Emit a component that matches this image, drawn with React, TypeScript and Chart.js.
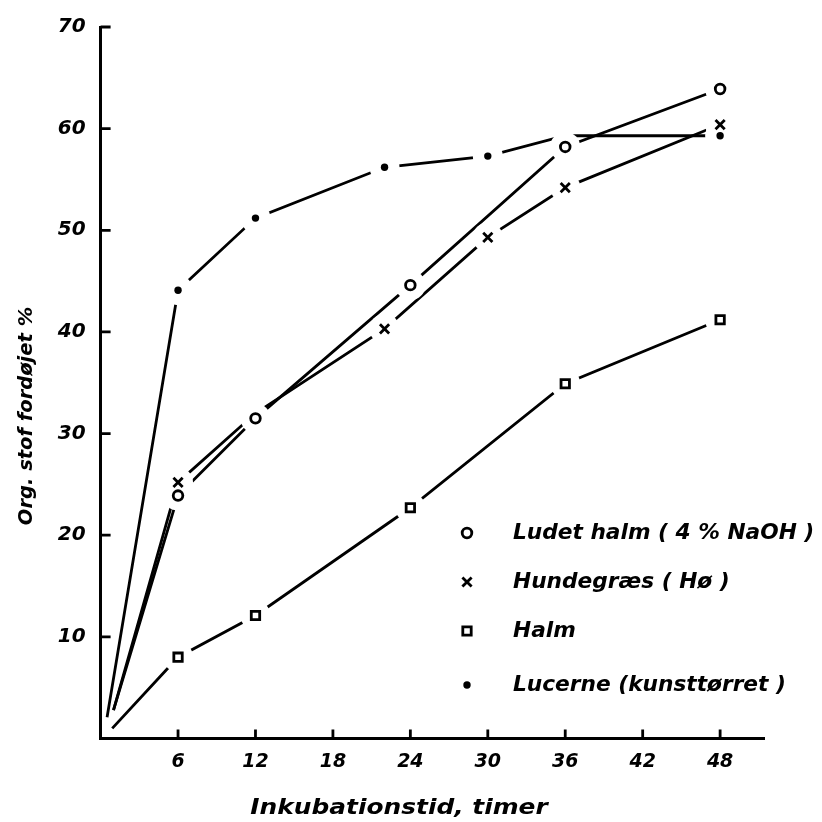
import React, { useEffect, useRef } from 'react';
import { Chart, registerables } from 'chart.js';

Chart.register(...registerables);

// ---- data ----
const ludetHours = [1, 6, 12, 24, 36, 48];
const ludetValues = [2.8, 23.9, 31.5, 44.6, 58.2, 63.9];

const hundeHours = [1, 6, 12, 22, 30, 36, 48];
const hundeValues = [2.8, 25.2, 32.0, 40.3, 49.3, 54.2, 60.4];

const halmHours = [0.9, 6, 12, 24, 36, 48];
const halmValues = [1.0, 8.0, 12.1, 22.7, 34.9, 41.2];

const lucerneHours = [0.5, 6, 12, 22, 30, 36, 48];
const lucerneValues = [2.1, 44.1, 51.2, 56.2, 57.3, 59.3, 59.3];

const xTickLabels = [6, 12, 18, 24, 30, 36, 42, 48];
const yTickLabels = [10, 20, 30, 40, 50, 60, 70];

const seriesNames = [
  'Ludet halm ( 4 % NaOH )',
  'Hundegræs ( Hø )',
  'Halm',
  'Lucerne (kunsttørret )',
];
const xTitle = 'Inkubationstid, timer';
const yTitle = 'Org. stof fordøjet %';

const FONT = '"DejaVu Sans", "Liberation Sans", sans-serif';
const markerStyles = ['circle', 'cross', 'square', 'dot'];

function drawMarker(ctx: CanvasRenderingContext2D, style: string, x: number, y: number) {
  ctx.save();
  ctx.strokeStyle = '#000';
  ctx.fillStyle = '#000';
  ctx.lineWidth = 2.8;
  ctx.beginPath();
  if (style === 'circle') {
    ctx.arc(x, y, 4.8, 0, Math.PI * 2);
    ctx.stroke();
  } else if (style === 'cross') {
    const s = 4.6;
    ctx.moveTo(x - s, y - s);
    ctx.lineTo(x + s, y + s);
    ctx.moveTo(x + s, y - s);
    ctx.lineTo(x - s, y + s);
    ctx.stroke();
  } else if (style === 'square') {
    ctx.rect(x - 4.2, y - 4.2, 8.4, 8.4);
    ctx.stroke();
  } else {
    ctx.arc(x, y, 3.7, 0, Math.PI * 2);
    ctx.fill();
  }
  ctx.restore();
}

function pts(xs: number[], ys: number[]) {
  return xs.map((x, i) => ({ x, y: ys[i] }));
}

export default function App() {
  const ref = useRef<HTMLCanvasElement | null>(null);

  useEffect(() => {
    if (!ref.current) return;

    // which markers are drawn (first point is the start of the curve, no marker;
    // a few are hidden under other markers in the original)
    const shown: boolean[][] = [
      ludetHours.map((_, i) => i > 0),
      hundeHours.map((h, i) => i > 0 && h !== 12),
      halmHours.map((_, i) => i > 0),
      lucerneHours.map((h, i) => i > 0 && h !== 36),
    ];

    const markerPlugin = {
      id: 'markers',
      afterDatasetsDraw(chart: any) {
        const ctx: CanvasRenderingContext2D = chart.ctx;
        const metas = chart.data.datasets.map((_: any, i: number) => chart.getDatasetMeta(i));
        // white gaps around the markers, as in the hand-drawn original
        ctx.save();
        ctx.fillStyle = '#ffffff';
        metas.forEach((meta: any, di: number) => {
          meta.data.forEach((el: any, pi: number) => {
            if (!shown[di][pi]) return;
            ctx.beginPath();
            ctx.arc(el.x, el.y, 15, 0, Math.PI * 2);
            ctx.fill();
          });
        });
        ctx.restore();
        metas.forEach((meta: any, di: number) => {
          meta.data.forEach((el: any, pi: number) => {
            if (!shown[di][pi]) return;
            drawMarker(ctx, markerStyles[di], el.x, el.y);
          });
        });
      },
    };

    const decorPlugin = {
      id: 'decor',
      afterDraw(chart: any) {
        const ctx: CanvasRenderingContext2D = chart.ctx;
        const xs = chart.scales.x;
        const ys = chart.scales.y;
        const { left, bottom } = chart.chartArea;
        ctx.save();
        ctx.strokeStyle = '#000';
        ctx.lineWidth = 2.8;
        ctx.beginPath();
        xTickLabels.forEach((v) => {
          const px = xs.getPixelForValue(v);
          ctx.moveTo(px, bottom);
          ctx.lineTo(px, bottom - 9);
        });
        yTickLabels.forEach((v) => {
          const py = ys.getPixelForValue(v);
          ctx.moveTo(left, py);
          ctx.lineTo(left + 10, py);
        });
        ctx.stroke();

        ctx.fillStyle = '#000';
        ctx.textBaseline = 'middle';

        // x title
        ctx.font = `italic bold 22px ${FONT}`;
        ctx.textAlign = 'center';
        ctx.save();
        ctx.translate(399, 808);
        ctx.scale(1.13, 1);
        ctx.fillText(xTitle, 0, 0);
        ctx.restore();

        // y title
        ctx.font = `italic bold 19.5px ${FONT}`;
        ctx.save();
        ctx.translate(27, 416);
        ctx.rotate(-Math.PI / 2);
        ctx.fillText(yTitle, 0, 0);
        ctx.restore();

        // legend
        const rows = [533, 582, 631, 685];
        ctx.font = `italic bold 21.7px ${FONT}`;
        ctx.textAlign = 'left';
        seriesNames.forEach((name, i) => {
          drawMarker(ctx, markerStyles[i], 467, rows[i]);
          ctx.fillText(name, 513, rows[i]);
        });
        ctx.restore();
      },
    };

    const yTickFont = { family: FONT, size: 20, style: 'italic' as const, weight: 'bold' as const };
    const xTickFont = { family: FONT, size: 19, style: 'italic' as const, weight: 'bold' as const };
    const lineDs = (data: any) => ({
      data,
      borderColor: '#000',
      borderWidth: 2.8,
      pointRadius: 0,
      pointHoverRadius: 0,
      tension: 0,
      fill: false,
    });

    const chart = new Chart(ref.current, {
      type: 'line',
      data: {
        datasets: [
          { label: seriesNames[0], ...lineDs(pts(ludetHours, ludetValues)) },
          { label: seriesNames[1], ...lineDs(pts(hundeHours, hundeValues)) },
          { label: seriesNames[2], ...lineDs(pts(halmHours, halmValues)) },
          { label: seriesNames[3], ...lineDs(pts(lucerneHours, lucerneValues)) },
        ],
      },
      options: {
        animation: false,
        responsive: false,
        devicePixelRatio: 1,
        layout: { padding: { left: 0, top: 21, right: 58, bottom: 0 } },
        plugins: { legend: { display: false }, tooltip: { enabled: false } },
        scales: {
          x: {
            type: 'linear',
            min: 0,
            max: 51.4,
            afterFit: (s: any) => {
              s.height = 83.5;
            },
            grid: { display: false, drawTicks: false },
            border: { display: true, width: 3, color: '#000' },
            ticks: {
              stepSize: 6,
              includeBounds: false,
              autoSkip: false,
              maxRotation: 0,
              padding: 12,
              color: '#000',
              font: xTickFont,
              callback: (v: any) => (xTickLabels.includes(Number(v)) ? String(v) : ''),
            },
          },
          y: {
            type: 'linear',
            min: 0,
            max: 70,
            afterFit: (s: any) => {
              s.width = 100.6;
            },
            grid: { display: false, drawTicks: false },
            border: { display: true, width: 3, color: '#000' },
            ticks: {
              stepSize: 10,
              includeBounds: false,
              autoSkip: false,
              padding: 15,
              color: '#000',
              font: yTickFont,
              callback: (v: any) => (yTickLabels.includes(Number(v)) ? String(v) : ''),
            },
          },
        },
      },
      plugins: [markerPlugin, decorPlugin],
    });

    return () => chart.destroy();
  }, []);

  return (
    <div style={{ position: 'fixed', left: 0, top: 0, width: 822, height: 822, background: '#fff' }}>
      <canvas ref={ref} width={822} height={822} />
    </div>
  );
}
